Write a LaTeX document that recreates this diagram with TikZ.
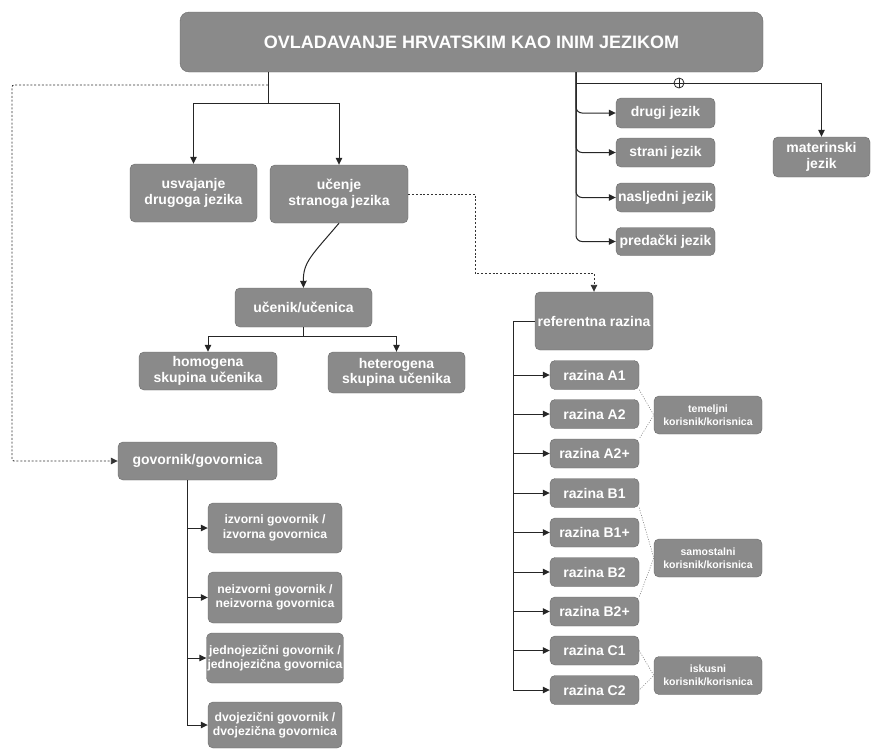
\documentclass[tikz,border=0pt]{standalone}
\usepackage{fontspec}
\setmainfont{Liberation Sans}
\usetikzlibrary{
  arrows.meta,
  positioning,
  calc
}
\definecolor{boxgray}{HTML}{8A8A8A}
\definecolor{boxedge}{HTML}{6A6A6A}
\tikzset{
  box/.style      = {draw=boxedge, fill=boxgray, rounded corners=5pt,
                     align=center, text=white, inner sep=1pt,
                     font=\bfseries\fontsize{14}{15.5}\selectfont},
  headbox/.style  = {box, rounded corners=9pt,
                     font=\bfseries\fontsize{18}{20}\selectfont},
  smallbox/.style = {box, font=\bfseries\fontsize{12.2}{14.5}\selectfont},
  groupbox/.style = {box, minimum width=108pt, minimum height=38pt,
                     font=\bfseries\fontsize{10.5}{13}\selectfont},
  level/.style    = {box, minimum width=89pt, minimum height=29pt},
  link/.style     = {draw=black!85, line width=1pt},
  arrow/.style    = {link, -{Triangle[length=7pt,width=6.5pt]}},
  dotarrow/.style = {draw=black!80, line width=0.9pt,
                     dash pattern=on 2pt off 1.8pt,
                     -{Triangle[length=7pt,width=6.5pt]}},
  grouplink/.style= {draw=black!50, line width=0.6pt,
                     dash pattern=on 1pt off 1.5pt},
  junction/.style = {draw=black!85, fill=white, circle, line width=0.8pt,
                     minimum size=10pt, inner sep=0pt,
                     path picture={\draw[line width=0.7pt]
                       (path picture bounding box.north) -- (path picture bounding box.south)
                       (path picture bounding box.west) -- (path picture bounding box.east);}},
}

\begin{document}
\begin{tikzpicture}[x=1pt, y=-1pt]
\useasboundingbox (0,0) rectangle (871,750);

% title
\node[headbox, minimum width=583pt, minimum height=60pt] (title) at (471.5,42)
   {OVLADAVANJE HRVATSKIM KAO INIM JEZIKOM};

% second / foreign language
\node[box, minimum width=127pt, minimum height=58pt] (usvajanje) at (193.5,193)
   {usvajanje\\ drugoga jezika};
\node[box, minimum width=138pt, minimum height=58pt] (ucenje) at (339,194)
   {učenje\\ stranoga jezika};
\node[box, minimum width=137pt, minimum height=39pt] (ucenik) at (303.5,307.5)
   {učenik/učenica};
\node[box, minimum width=138pt, minimum height=38pt] (homogena) at (208,371)
   {homogena\\ skupina učenika};
\node[box, minimum width=137pt, minimum height=41pt] (heterogena) at (396.5,372.5)
   {heterogena\\ skupina učenika};

% language types
\node[box, minimum width=99pt, minimum height=30pt] (drugi) at (665.5,113) {drugi jezik};
\node[box, minimum width=99pt, minimum height=29pt] (strani) at (665.5,152.5) {strani jezik};
\node[box, minimum width=99pt, minimum height=29pt] (nasljedni) at (665.5,197.5) {nasljedni jezik};
\node[box, minimum width=99pt, minimum height=28pt] (predacki) at (665.5,241.5) {predački jezik};
\node[box, minimum width=97pt, minimum height=40pt] (materinski) at (821.5,157)
   {materinski\\ jezik};
\node[junction] (plus) at (679,83) {};

% speakers
\node[box, minimum width=159pt, minimum height=38pt] (govornik) at (197.5,461)
   {govornik/govornica};
\node[smallbox, minimum width=134pt, minimum height=50pt] (izvorni) at (275,528)
   {izvorni govornik /\\ izvorna govornica};
\node[smallbox, minimum width=134pt, minimum height=51pt] (neizvorni) at (275,597.5)
   {neizvorni govornik /\\ neizvorna govornica};
\node[smallbox, minimum width=134pt, minimum height=50pt] (jednojezicni) at (275,658)
   {jednojezični govornik /\\ jednojezična govornica};
\node[smallbox, minimum width=134pt, minimum height=46pt] (dvojezicni) at (275,725)
   {dvojezični govornik /\\ dvojezična govornica};

% reference levels
\node[box, minimum width=118pt, minimum height=58pt] (referentna) at (594,321)
   {referentna razina};
\node[level] (A1)  at (594.5,375)   {razina A1};
\node[level] (A2)  at (594.5,414)   {razina A2};
\node[level] (A2p) at (594.5,453.5) {razina A2+};
\node[level] (B1)  at (594.5,493)   {razina B1};
\node[level] (B1p) at (594.5,532.5) {razina B1+};
\node[level] (B2)  at (594.5,572)   {razina B2};
\node[level] (B2p) at (594.5,611.5) {razina B2+};
\node[level] (C1)  at (594.5,650.5) {razina C1};
\node[level] (C2)  at (594.5,690)   {razina C2};
\node[groupbox] (temeljni)   at (708,415)   {temeljni\\ korisnik/korisnica};
\node[groupbox] (samostalni) at (708,558)   {samostalni\\ korisnik/korisnica};
\node[groupbox] (iskusni)    at (708,675.5) {iskusni\\ korisnik/korisnica};

% helper points
\coordinate (lsplit)  at (268,103);
\coordinate (ldot)    at (268,85);
\coordinate (langtop) at (576,72);
\coordinate (rdot)    at (475,273);
\coordinate (gspine)  at (187,480);

% title -> acquisition / learning
\draw[link] (title.south -| lsplit) -- (lsplit);
\draw[arrow] (lsplit) -| (usvajanje.north);
\draw[arrow] (lsplit) -| (ucenje.north);
\draw[arrow] (ucenje.south) .. controls (312,255) and (303,262) .. (ucenik.north);
\draw[link] (ucenik.south) -- ++(0,9) coordinate (usplit);
\draw[arrow] (usplit) -| (homogena.north);
\draw[arrow] (usplit) -| (heterogena.north);

% title -> speaker (dotted)
\draw[dotarrow, rounded corners=2pt] (ldot) -- (12,85) |- (govornik.west);
\draw[link] (govornik.south -| gspine) -- (gspine |- dvojezicni.west);
\draw[arrow] (gspine |- izvorni.west) -- (izvorni.west);
\draw[arrow] (gspine |- neizvorni.west) -- (neizvorni.west);
\draw[arrow] (gspine |- jednojezicni.west) -- (jednojezicni.west);
\draw[arrow] (gspine |- dvojezicni.west) -- (dvojezicni.west);

% learning -> reference levels (dotted)
\draw[dotarrow] (ucenje.east) -| (rdot) -| (referentna.north);
\draw[link] (referentna.west) -- ++(-21,0) coordinate (rspine);
\draw[arrow] (rspine) |- (A1.west);
\draw[arrow] (rspine) |- (A2.west);
\draw[arrow] (rspine) |- (A2p.west);
\draw[arrow] (rspine) |- (B1.west);
\draw[arrow] (rspine) |- (B1p.west);
\draw[arrow] (rspine) |- (B2.west);
\draw[arrow] (rspine) |- (B2p.west);
\draw[arrow] (rspine) |- (C1.west);
\draw[arrow] (rspine) |- (C2.west);

% level groups
\draw[grouplink] (A1.south east) -- (temeljni.west) -- (A2p.north east);
\draw[grouplink] (B1.south east) -- (samostalni.west) -- (B2p.north east);
\draw[grouplink] (C1.east) -- (iskusni.west) -- (C2.east);

% title -> language types
\draw[arrow, rounded corners=6pt] (langtop) |- (drugi.west);
\draw[arrow, rounded corners=6pt] (langtop) |- (strani.west);
\draw[arrow, rounded corners=6pt] (langtop) |- (nasljedni.west);
\draw[arrow, rounded corners=6pt] (langtop) |- (predacki.west);
\draw[link] (langtop |- plus) -- (plus);
\draw[arrow] (plus) -| (materinski.north);
\end{tikzpicture}
\end{document}
